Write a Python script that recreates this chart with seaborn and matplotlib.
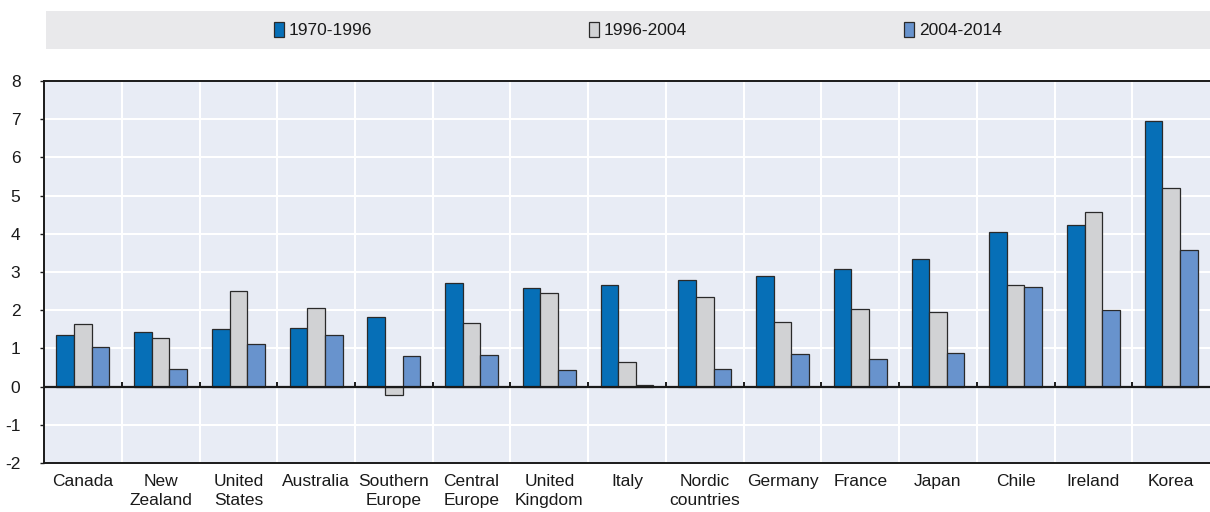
import matplotlib
matplotlib.use("Agg")
import matplotlib.pyplot as plt
import matplotlib.patches as mpatches
import seaborn as sns
import pandas as pd
from matplotlib import font_manager

countries = ["Canada", "New\nZealand", "United\nStates", "Australia", "Southern\nEurope",
             "Central\nEurope", "United\nKingdom", "Italy", "Nordic\ncountries", "Germany",
             "France", "Japan", "Chile", "Ireland", "Korea"]
periods = ["1970-1996", "1996-2004", "2004-2014"]
v_1970_1996 = [1.36, 1.42, 1.50, 1.53, 1.82, 2.71, 2.57, 2.65, 2.80, 2.90, 3.09, 3.33, 4.04, 4.22, 6.95]
v_1996_2004 = [1.63, 1.28, 2.50, 2.05, -0.23, 1.66, 2.45, 0.64, 2.34, 1.68, 2.03, 1.94, 2.67, 4.57, 5.19]
v_2004_2014 = [1.03, 0.46, 1.11, 1.34, 0.81, 0.83, 0.44, 0.03, 0.46, 0.85, 0.72, 0.88, 2.61, 2.01, 3.58]
y_ticks = [-2, -1, 0, 1, 2, 3, 4, 5, 6, 7, 8]

colors = ["#066FB7", "#D1D2D4", "#6893CD"]

sns.set_theme(style="white")
avail = {f.name for f in font_manager.fontManager.ttflist}
fam = "Liberation Sans Narrow" if "Liberation Sans Narrow" in avail else "Liberation Sans"
plt.rcParams["font.family"] = [fam, "DejaVu Sans"]

rows = []
for p, vals in zip(periods, [v_1970_1996, v_1996_2004, v_2004_2014]):
    for c, v in zip(countries, vals):
        rows.append({"country": c, "period": p, "value": v})
df = pd.DataFrame(rows)

fig = plt.figure(figsize=(12.10, 5.12), dpi=100)
ax = fig.add_axes([0.0364, 0.0957, 0.9636, 0.7462])
ax.set_facecolor("#E8ECF5")

sns.barplot(data=df, x="country", y="value", hue="period", hue_order=periods,
            order=countries, palette=colors, saturation=1, width=0.68, gap=0,
            edgecolor="#2a2a2a", linewidth=0.9, ax=ax, legend=False, zorder=3)

ax.set_xlim(-0.5, len(countries) - 0.5)
ax.set_ylim(-2, 8)
ax.set_yticks(y_ticks)
ax.set_yticklabels([str(t) for t in y_ticks])
ax.set_xlabel("")
ax.set_ylabel("")

# grid
for t in y_ticks:
    ax.axhline(t, color="white", lw=1.5, zorder=1)
for i in range(len(countries) - 1):
    ax.axvline(i + 0.5, color="white", lw=1.5, zorder=1)
ax.axhline(0, color="#1a1a1a", lw=1.6, zorder=4)
ax.vlines([i + 0.5 for i in range(len(countries) - 1)], 0, 0.13, color="#1a1a1a", lw=1.4, zorder=4)

for s in ["left", "top", "bottom"]:
    ax.spines[s].set_color("#1a1a1a")
    ax.spines[s].set_linewidth(1.4)
ax.spines["right"].set_visible(False)

ax.tick_params(axis="y", length=3, width=1, color="#1a1a1a", labelsize=12.5, pad=14, labelcolor="#1a1a1a", left=True)
ax.tick_params(axis="x", length=0, labelsize=12.5, pad=8, labelcolor="#1a1a1a")
for lab in ax.get_xticklabels():
    lab.set_linespacing(1.3)

# legend band
band = mpatches.Rectangle((0.038, 0.904), 0.962, 0.074, transform=fig.transFigure,
                          facecolor="#E9E9EB", edgecolor="none", zorder=0)
fig.patches.append(band)
handles = [mpatches.Patch(facecolor=c, edgecolor="#2a2a2a", linewidth=0.9, label=p)
           for c, p in zip(colors, periods)]
fig.legend(handles=handles, loc="center", bbox_to_anchor=(0.527, 0.941), ncol=3,
           frameon=False, fontsize=12.5, handlelength=0.6, handleheight=0.9,
           handletextpad=0.25, columnspacing=12.5, labelcolor="#1a1a1a")

fig.savefig("out.png", dpi=100)
